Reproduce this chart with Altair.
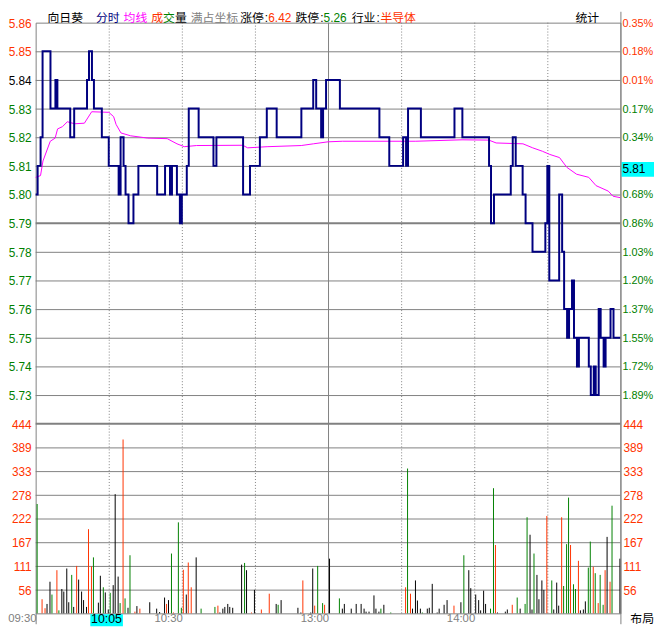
import altair as alt
import pandas as pd

# ---------------- values ----------------
# minute-price change points of the intraday price (step line)
price_min = [0, 1, 2, 3, 6, 8, 9, 14, 16, 21,
             22, 23, 24, 27, 30, 34, 35, 36, 37, 38,
             40, 42, 50, 53, 55, 56, 58, 59, 60, 62,
             63, 67, 73, 74, 85, 88, 92, 95, 99, 109,
             114, 115, 117, 118, 119, 125, 141, 145, 151, 152,
             153, 158, 172, 175, 186, 187, 188, 195, 196, 197,
             200, 201, 204, 209, 210, 211, 215, 216, 217, 218,
             219, 220, 221, 222, 223, 227, 228, 229, 230, 231,
             232, 233, 234, 236, 237, 240]
price_val = [5.80, 5.81, 5.82, 5.85, 5.83, 5.84, 5.83, 5.82, 5.83, 5.84,
             5.85, 5.84, 5.83, 5.82, 5.81, 5.80, 5.82, 5.81, 5.80, 5.79,
             5.80, 5.81, 5.80, 5.81, 5.80, 5.81, 5.80, 5.79, 5.80, 5.81,
             5.83, 5.82, 5.81, 5.82, 5.80, 5.81, 5.82, 5.83, 5.82, 5.83,
             5.84, 5.83, 5.82, 5.83, 5.84, 5.83, 5.82, 5.81, 5.82, 5.81,
             5.83, 5.82, 5.83, 5.82, 5.81, 5.79, 5.80, 5.81, 5.82, 5.81,
             5.80, 5.79, 5.78, 5.79, 5.81, 5.77, 5.80, 5.78, 5.76, 5.75,
             5.76, 5.77, 5.75, 5.74, 5.75, 5.74, 5.73, 5.74, 5.73, 5.76,
             5.75, 5.74, 5.75, 5.76, 5.75, 5.75]

# average price line
avg_min = [0, 2, 3, 6, 8, 9, 11, 13, 16, 20,
           23, 30, 32, 33, 35, 39, 46, 54, 58, 61,
           66, 85, 87, 95, 109, 114, 120, 126, 156, 175,
           186, 189, 200, 204, 208, 211, 215, 218, 222, 227,
           230, 235, 237, 240]
avg_val = [5.8060, 5.8066, 5.8117, 5.8186, 5.8197, 5.8229, 5.8237, 5.8254, 5.8247, 5.8249,
           5.8289, 5.8287, 5.8272, 5.8245, 5.8215, 5.8205, 5.8197, 5.8195, 5.8177, 5.8167,
           5.8171, 5.8172, 5.8163, 5.8167, 5.8171, 5.8177, 5.8184, 5.8186, 5.8186, 5.8191,
           5.8190, 5.8180, 5.8177, 5.8163, 5.8151, 5.8140, 5.8129, 5.8095, 5.8071, 5.8060,
           5.8031, 5.8012, 5.7994, 5.7989]

# per-minute volume bars (minute index, volume, r=up / g=down / k=flat)
vol_min = [0, 2, 3, 4, 5, 6, 8, 9, 10, 11,
           12, 13, 14, 15, 16, 17, 18, 19, 20, 21,
           22, 23, 25, 26, 27, 28, 29, 30, 31, 32,
           33, 34, 35, 36, 37, 38, 40, 41, 42, 46,
           49, 50, 52, 53, 54, 55, 56, 58, 59, 60,
           61, 62, 63, 65, 67, 73, 74, 75, 76, 77,
           78, 79, 80, 84, 85, 86, 88, 89, 92, 95,
           98, 99, 100, 107, 108, 109, 112, 113, 114, 115,
           117, 118, 120, 124, 125, 126, 129, 131, 133, 134,
           135, 136, 138, 139, 140, 141, 142, 145, 151, 152,
           153, 154, 155, 156, 157, 158, 160, 161, 162, 164,
           165, 167, 168, 171, 174, 175, 177, 178, 180, 181,
           182, 183, 184, 186, 187, 188, 189, 192, 193, 195,
           197, 198, 200, 201, 202, 203, 204, 205, 206, 207,
           208, 209, 211, 212, 213, 214, 215, 216, 217, 218,
           219, 220, 221, 222, 223, 224, 225, 226, 227, 228,
           229, 230, 231, 232, 233, 234, 235, 236, 239]
vol_val = [256, 33, 12, 22, 74, 44, 101, 7, 57, 51,
           105, 26, 90, 15, 111, 79, 51, 31, 15, 197,
           110, 131, 25, 88, 61, 49, 9, 48, 66, 279,
           86, 24, 407, 35, 13, 136, 4, 17, 11, 26,
           11, 3, 37, 22, 31, 140, 2, 213, 13, 102,
           44, 119, 61, 131, 11, 15, 18, 2, 11, 15,
           22, 15, 13, 114, 118, 101, 2, 55, 9, 46,
           22, 20, 31, 13, 2, 77, 2, 105, 18, 111,
           24, 20, 128, 35, 11, 22, 11, 22, 22, 11,
           4, 4, 42, 11, 4, 11, 20, 2, 61, 339,
           46, 11, 77, 30, 11, 2, 11, 13, 69, 2,
           11, 20, 31, 18, 26, 136, 101, 59, 44, 31,
           7, 53, 22, 11, 293, 160, 2, 4, 9, 20,
           37, 11, 22, 225, 184, 9, 140, 90, 33, 77,
           55, 228, 77, 9, 72, 18, 225, 64, 162, 271,
           160, 68, 57, 123, 7, 9, 28, 107, 168, 109,
           94, 24, 90, 20, 101, 179, 74, 252, 128]
vol_dir = ["g", "r", "r", "k", "k", "g", "r", "g", "k", "k",
           "k", "k", "g", "k", "r", "k", "k", "k", "k", "r",
           "r", "g", "k", "k", "g", "k", "k", "g", "k", "k",
           "k", "g", "r", "g", "k", "g", "r", "k", "r", "k",
           "k", "k", "k", "r", "k", "g", "r", "g", "g", "r",
           "k", "r", "r", "k", "g", "g", "r", "k", "k", "k",
           "k", "k", "k", "k", "g", "k", "r", "k", "r", "r",
           "k", "g", "k", "k", "k", "r", "k", "k", "r", "g",
           "g", "r", "k", "g", "k", "k", "k", "k", "k", "k",
           "k", "k", "k", "k", "k", "g", "k", "g", "r", "g",
           "r", "k", "k", "k", "k", "g", "k", "k", "k", "k",
           "k", "k", "k", "r", "k", "g", "k", "k", "k", "k",
           "k", "k", "k", "g", "g", "r", "k", "k", "k", "r",
           "g", "k", "g", "g", "k", "k", "g", "k", "k", "k",
           "k", "r", "g", "k", "k", "k", "r", "g", "g", "g",
           "r", "g", "g", "r", "k", "k", "k", "g", "g", "r",
           "g", "r", "g", "g", "r", "k", "r", "g", "k"]

# axis ticks and labels
price_ticks = [5.86, 5.85, 5.84, 5.83, 5.82, 5.81, 5.80, 5.79, 5.78, 5.77, 5.76, 5.75, 5.74, 5.73]
price_labels = ["5.86", "5.85", "5.84", "5.83", "5.82", "5.81", "5.80", "5.79",
                "5.78", "5.77", "5.76", "5.75", "5.74", "5.73"]
pct_labels = ["0.35%", "0.18%", "0.01%", "0.17%", "0.34%", "", "0.68%", "0.86%",
              "1.03%", "1.20%", "1.37%", "1.55%", "1.72%", "1.89%"]
vol_ticks = [444, 388.5, 333, 277.5, 222, 166.5, 111, 55.5]
vol_labels = ["444", "389", "333", "278", "222", "167", "111", "56"]
time_ticks = [0, 60, 120, 180]
time_labels = ["09:30", "10:30", "13:00", "14:00"]
dotted_minutes = [30, 60, 90, 150, 180, 210]
session_break = [120]
cursor_minute = [35]
cursor_label = ["10:05"]
last_price = [5.81]
last_label = ["5.81"]
header_texts = ["向日葵", "分时", "均线", "成", "交", "量", "满占坐标",
                "涨停", ":", "6.42", "跌停", ":", "5.26", "行业", ":", "半导体", "统计"]

# ---------------- styles / layout ----------------
RED, GREEN, NAVY, MAGENTA = "#ff3300", "#008000", "#000080", "#ff00ff"
GRID, GRAYTXT, CYAN, BLACK = "#808080", "#808080", "#00ffff", "#000000"
NUM_FONT, CJK_FONT = "Liberation Sans", "Noto Sans CJK SC"
W, H, PH = 592, 598, 406
PX_PER_MIN = W / 240
PAD = {"left": 28, "top": 11, "right": 34, "bottom": 11}
header_colors = [BLACK, NAVY, MAGENTA, RED, GREEN, BLACK, GRAYTXT,
                 BLACK, BLACK, RED, BLACK, BLACK, GREEN, BLACK, BLACK, RED, BLACK]
header_x = [12, 61, 89, 117, 129, 141, 157, 207, 232, 235.5, 263, 288, 291.5, 320, 345, 349, 546.5]
header_font = [CJK_FONT] * 7 + [CJK_FONT, NUM_FONT, NUM_FONT, CJK_FONT, NUM_FONT, NUM_FONT,
                                CJK_FONT, NUM_FONT, CJK_FONT, CJK_FONT]
dir_color = {"r": RED, "g": GREEN, "k": BLACK}

xs = alt.Scale(domain=[0, 240], nice=False, zero=False)
ps = alt.Scale(domain=[5.72, 5.86], range=[PH, 0], nice=False, zero=False)
vs = alt.Scale(domain=[0, 444], range=[H, PH], nice=False, zero=False)


def X(f):
    return alt.X(f, type="quantitative", scale=xs, axis=None)


def PY(f):
    return alt.Y(f, type="quantitative", scale=ps, axis=None)


def VY(f):
    return alt.Y(f, type="quantitative", scale=vs, axis=None)


def colr(f="col"):
    return alt.Color(f, type="nominal", scale=None)


def snap(col):
    # snap minute positions onto whole pixels so 1px/2px strokes stay crisp
    return f"round(datum.{col} * {PX_PER_MIN}) / {PX_PER_MIN}"


# ---------------- frames ----------------
price_df = pd.DataFrame({"m": price_min, "p": price_val})
avg_df = pd.DataFrame({"m": avg_min, "p": avg_val})
vol_df = pd.DataFrame({"i": vol_min, "v": vol_val, "d": vol_dir})
vol_df["xm"] = vol_df["i"] + 0.5
vol_df["z"] = 0
vol_df["col"] = vol_df["d"].map(dir_color)

pt = pd.DataFrame({"p": price_ticks, "lab": price_labels, "pct": pct_labels})
pt["lcol"] = [RED if p > 5.845 else (BLACK if abs(p - 5.84) < 1e-9 else GREEN) for p in price_ticks]
pt["rcol"] = [RED if p > 5.835 else GREEN for p in price_ticks]
thin_p = pt[(pt["p"] < 5.855) & (abs(pt["p"] - 5.79) > 1e-9)]
bold_p = pd.DataFrame({"p": [5.79]})

vt = pd.DataFrame({"v": vol_ticks, "lab": vol_labels})
thin_v = vt[vt["v"] < 400]
bold_v = pd.DataFrame({"v": [444]})

dots = pd.DataFrame({"m": dotted_minutes})
solid = pd.DataFrame({"m": session_break})
tt = pd.DataFrame({"m": time_ticks, "lab": time_labels})
cur = pd.DataFrame({"m": cursor_minute, "lab": cursor_label})
lastp = pd.DataFrame({"p": last_price, "lab": last_label})
hdr = pd.DataFrame({"t": header_texts, "col": header_colors, "hx": header_x, "f": header_font})
one = pd.DataFrame({"a": [0]})

layers = []

# grid lines
layers.append(alt.Chart(thin_p).mark_rule(color=GRID, strokeWidth=1, yOffset=0.5).encode(y=PY("p")))
layers.append(alt.Chart(bold_p).mark_rule(color=GRID, strokeWidth=2).encode(y=PY("p")))
layers.append(alt.Chart(thin_v).mark_rule(color=GRID, strokeWidth=1, yOffset=0.5).encode(y=VY("v")))
layers.append(alt.Chart(bold_v).mark_rule(color=GRID, strokeWidth=2).encode(y=VY("v")))
layers.append(alt.Chart(dots).mark_rule(color=GRID, strokeWidth=1, strokeDash=[1, 2], xOffset=0.5)
              .encode(x=X("m")))
layers.append(alt.Chart(solid).mark_rule(color=GRID, strokeWidth=1, xOffset=0.5).encode(x=X("m")))

# volume bars
layers.append(alt.Chart(vol_df).transform_calculate(xs_=snap("xm"))
              .mark_rule(strokeWidth=1, xOffset=0.5).encode(
    x=X("xs_:Q"), y=VY("v"), y2=alt.Y2("z"), color=colr()))

# average and price lines
layers.append(alt.Chart(avg_df).mark_line(color=MAGENTA, strokeWidth=1).encode(x=X("m"), y=PY("p")))
layers.append(alt.Chart(price_df).transform_calculate(ms_=snap("m"))
              .mark_line(color=NAVY, strokeWidth=2, interpolate="step-after")
              .encode(x=X("ms_:Q"), y=PY("p")))

# axis labels
layers.append(alt.Chart(pt).mark_text(align="right", baseline="middle", dx=-4, dy=1,
                                      font=NUM_FONT, fontSize=12)
              .encode(x=alt.value(0), y=PY("p"), text="lab:N", color=colr("lcol")))
layers.append(alt.Chart(pt[pt["pct"] != ""]).mark_text(align="left", baseline="middle", dx=2, dy=1,
                                                       font=NUM_FONT, fontSize=11)
              .encode(x=alt.value(W), y=PY("p"), text="pct:N", color=colr("rcol")))
layers.append(alt.Chart(vt).mark_text(align="right", baseline="middle", dx=-4, dy=1,
                                      font=NUM_FONT, fontSize=12, color=RED)
              .encode(x=alt.value(0), y=VY("v"), text="lab:N"))
layers.append(alt.Chart(vt).mark_text(align="left", baseline="middle", dx=3, dy=1,
                                      font=NUM_FONT, fontSize=12, color=RED)
              .encode(x=alt.value(W), y=VY("v"), text="lab:N"))

# last price tag on the right
layers.append(alt.Chart(lastp).mark_rect(color=CYAN, yOffset=-4, y2Offset=11)
              .encode(x=alt.value(W + 1), x2=alt.value(W + 40), y=PY("p"), y2=alt.Y2("p")))
layers.append(alt.Chart(lastp).mark_text(align="left", baseline="middle", dy=3, dx=2,
                                         font=NUM_FONT, fontSize=12, color=BLACK)
              .encode(x=alt.value(W), y=PY("p"), text="lab:N"))

# time labels and cursor time
layers.append(alt.Chart(tt).mark_text(align="right", baseline="middle", dx=1,
                                      font=NUM_FONT, fontSize=11.5, color=GRAYTXT)
              .encode(x=X("m"), y=alt.value(H + 6), text="lab:N"))
layers.append(alt.Chart(cur).mark_rect(color=CYAN, xOffset=-31, x2Offset=2)
              .encode(x=X("m"), x2=alt.X2("m"), y=alt.value(H + 1), y2=alt.value(H + 13)))
layers.append(alt.Chart(cur).mark_text(align="right", baseline="middle", dx=1,
                                       font=NUM_FONT, fontSize=12.5, color=BLACK)
              .encode(x=X("m"), y=alt.value(H + 6), text="lab:N"))
layers.append(alt.Chart(one).mark_text(align="left", baseline="middle", text="布局",
                                       font=CJK_FONT, fontSize=12, color=BLACK)
              .encode(x=alt.value(W + 10), y=alt.value(H + 6)))

# header
for fnt in (CJK_FONT, NUM_FONT):
    layers.append(alt.Chart(hdr[hdr["f"] == fnt]).mark_text(align="left", baseline="middle",
                                                            font=fnt, fontSize=12)
                  .encode(x=alt.X("hx:Q", scale=None), y=alt.value(-5), text="t:N", color=colr()))

# axis line extensions
layers.append(alt.Chart(one).mark_rule(color=GRID, strokeWidth=1)
              .encode(x=alt.value(0.5), y=alt.value(H), y2=alt.value(H + 11)))
layers.append(alt.Chart(one).mark_rule(color=GRID, strokeWidth=1)
              .encode(x=alt.value(W + 0.5), y=alt.value(-11), y2=alt.value(H + 11)))

chart = (
    alt.layer(*layers)
    .resolve_scale(y="independent")
    .properties(width=W, height=H, autosize=alt.AutoSizeParams(type="none"), padding=PAD,
                background="white")
    .configure_view(stroke=GRID, strokeWidth=1)
)

chart.save("out.html", embed_options={"renderer": "svg", "actions": False})
